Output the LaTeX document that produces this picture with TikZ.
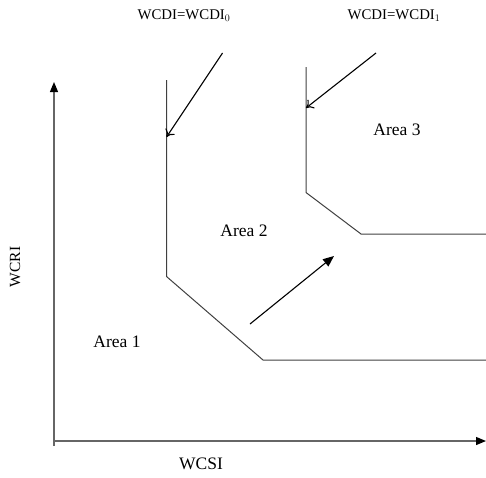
\documentclass[tikz,border=0pt]{standalone}
\usepackage{fontspec}
\setmainfont{Liberation Serif}
\usetikzlibrary{arrows.meta}
\begin{document}
\begin{tikzpicture}[x=1pt,y=-1pt,
  curve/.style={line width=1pt,draw=black!75},
  axis/.style={line width=1.2pt,draw=black!60,-{Triangle[length=10pt,width=8pt,color=black]}},
  openarrow/.style={line width=1.1pt,-{To[length=7pt,width=11pt]}},
  fillarrow/.style={line width=1.1pt,-{Triangle[length=11pt,width=9pt]}},
  lbl/.style={inner sep=0pt,font=\fontsize{17.5}{19}\selectfont},
  toplbl/.style={inner sep=0pt,font=\fontsize{14.8}{16}\selectfont}]
\useasboundingbox (0,0) rectangle (486,477);
% axes
\coordinate (O) at (54,441);
\coordinate (Otail) at (54,446);
\coordinate (Ytip) at (54,82);
\coordinate (Xtip) at (486,441);
\draw[axis] (Otail) -- (Ytip);
\draw[axis] (O) -- (Xtip);
% curve 0
\coordinate (a1) at (166.5,80);
\coordinate (a2) at (166.5,276.5);
\coordinate (a3) at (263,360);
\coordinate (a4) at (486,360);
\draw[curve] (a1) -- (a2) -- (a3) -- (a4);
% curve 1
\coordinate (b1) at (306,67);
\coordinate (b2) at (306,192.5);
\coordinate (b3) at (361,234);
\coordinate (b4) at (486,234);
\draw[curve] (b1) -- (b2) -- (b3) -- (b4);
% arrows
\coordinate (p1s) at (222.5,53);
\coordinate (p1e) at (166.5,137);
\coordinate (p2s) at (376,53);
\coordinate (p2e) at (306,108);
\coordinate (p3s) at (250,324);
\coordinate (p3e) at (334,256);
\draw[openarrow] (p1s) -- (p1e);
\draw[openarrow] (p2s) -- (p2e);
\draw[fillarrow] (p3s) -- (p3e);
% labels
\node[toplbl] (w0) at (184,16) {WCDI=WCDI$_0$};
\node[toplbl] (w1) at (394,16) {WCDI=WCDI$_1$};
\node[lbl] (ar1) at (117,342) {Area 1};
\node[lbl] (ar2) at (244,231) {Area 2};
\node[lbl] (ar3) at (397,130) {Area 3};
\node[lbl,rotate=90,font=\fontsize{15.5}{17}\selectfont] (wcri) at (15,267) {WCRI};
\node[lbl] (wcsi) at (201,464) {WCSI};
\end{tikzpicture}
\end{document}
